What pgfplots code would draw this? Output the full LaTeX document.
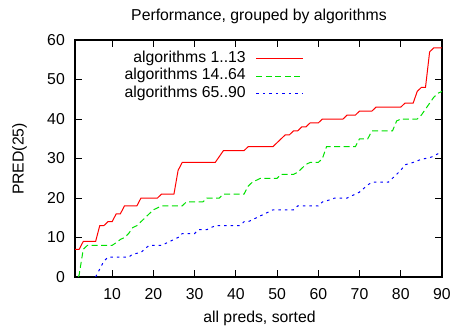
\documentclass[border=0pt]{standalone}
\usepackage{fontspec}
\setmainfont{Liberation Sans}
\usepackage{pgfplots}
\pgfplotsset{compat=1.18}
\newcommand{\gfont}{\fontsize{15.8bp}{19bp}\selectfont}
\definecolor{gred}{RGB}{255,0,0}
\definecolor{ggreen}{RGB}{0,225,0}
\definecolor{gblue}{RGB}{0,0,255}
\begin{document}
\begin{tikzpicture}
\useasboundingbox (0,0) rectangle (454bp,329bp);
\begin{axis}[
  at={(75bp,52bp)}, anchor=south west,
  scale only axis, width=367bp, height=237bp,
  xmin=1, xmax=90, ymin=0, ymax=60,
  xtick={10,20,...,90}, ytick={0,10,...,60},
  tick align=inside, xtick pos=both, ytick pos=both,
  major tick length=7bp,
  axis line style={line width=1.1bp},
  every tick/.style={black, line width=0.9bp},
  /pgf/number format/assume math mode=true,
  tick label style={font=\gfont},
  yticklabel style={anchor=east, inner sep=0pt, xshift=-10bp},
  xticklabel style={anchor=north, inner sep=0pt, yshift=-11bp},
  legend plot pos=right, legend cell align=right,
  legend style={draw=none, fill=none, font=\gfont, at={(0.624,0.955)}, anchor=north east,
    inner sep=0pt, row sep=1.3bp, column sep=10bp,
    nodes={inner sep=0pt, text height=11.8bp, text depth=4.1bp}},
  legend image code/.code={\draw[#1] (0bp,0bp) -- (47bp,0bp);},
  no markers, sharp plot,
]
\addplot[gred, line width=1bp] coordinates {
(1,7)(2,7)(3,9)(4,9)(5,9)(6,9)(7,13)(8,13)(9,14)(10,14)(11,16)(12,16)(13,18)(14,18)(15,18)(16,18)(17,20)(18,20)(19,20)(20,20)(21,20)(22,21)(23,21)(24,21)(25,21)(26,27)(27,29)(28,29)(29,29)(30,29)(31,29)(32,29)(33,29)(34,29)(35,29)(36,30.5)(37,32)(38,32)(39,32)(40,32)(41,32)(42,32)(43,33)(44,33)(45,33)(46,33)(47,33)(48,33)(49,33)(50,34)(51,35)(52,36)(53,36)(54,37)(55,37)(56,38)(57,38)(58,39)(59,39)(60,39)(61,40)(62,40)(63,40)(64,40)(65,40)(66,40)(67,41)(68,41)(69,41)(70,42)(71,42)(72,42)(73,42)(74,43)(75,43)(76,43)(77,43)(78,43)(79,43)(80,43)(81,44)(82,44)(83,44)(84,47)(85,48)(86,48)(87,57)(88,58)(89,58)(90,58)
};
\addlegendentry{algorithms 1..13}
\addplot[ggreen, line width=1bp, dash pattern=on 6bp off 3.5bp] coordinates {
(1.8,0)(2,0.5)(3,7)(4,8)(5,8)(6,8)(7,8)(8,8)(9,8)(10,8)(11,8.7)(12,9.5)(13,10)(14,11)(15,12.5)(16,13)(17,14)(18,15)(19,16)(20,17)(21,17.5)(22,18)(23,18)(24,18)(25,18)(26,18)(27,18)(28,19)(29,19)(30,19)(31,19)(32,19)(33,20)(34,20)(35,20)(36,20)(37,21)(38,21)(39,21)(40,21)(41,21)(42,21)(43,23)(44,24)(45,24.5)(46,25)(47,25)(48,25)(49,25)(50,25)(51,26)(52,26)(53,26)(54,26)(55,26.5)(56,27.5)(57,28.5)(58,29)(59,29)(60,29)(61,30)(62,33)(63,33)(64,33)(65,33)(66,33)(67,33)(68,33)(69,33)(70,35)(71,35)(72,35)(73,37)(74,37)(75,37)(76,37)(77,37)(78,37)(79,39.5)(80,40)(81,40)(82,40)(83,40)(84,40)(85,41)(86,42.5)(87,44)(88,45.5)(89,46.5)(90,47)
};
\addlegendentry{algorithms 14..64}
\addplot[gblue, line width=1bp, dash pattern=on 2.5bp off 4bp] coordinates {
(6,0)(7,2)(8,4)(9,5)(10,5)(11,5)(12,5)(13,5)(14,5)(15,5.8)(16,6)(17,6.2)(18,7.2)(19,8)(20,8)(21,8)(22,8)(23,8.5)(24,9)(25,9.5)(26,10)(27,11)(28,11)(29,11)(30,11)(31,12)(32,12)(33,12)(34,12.5)(35,13)(36,13)(37,13)(38,13)(39,13)(40,13)(41,13)(42,14)(43,14)(44,14.5)(45,15)(46,15.5)(47,16)(48,16.5)(49,17)(50,17)(51,17)(52,17)(53,17)(54,17)(55,18)(56,18)(57,18)(58,18)(59,18)(60,18)(61,19)(62,19.3)(63,19.6)(64,20)(65,20)(66,20)(67,20)(68,20.5)(69,21)(70,21.5)(71,22.4)(72,23.3)(73,24)(74,24)(75,24)(76,24)(77,24)(78,25)(79,26)(80,27)(81,28.4)(82,28.7)(83,29)(84,29.4)(85,29.8)(86,30)(87,30.2)(88,30.6)(89,31.2)(90,31.5)
};
\addlegendentry{algorithms 65..90}
\end{axis}
\node[font=\gfont, anchor=base] at (259bp,308bp) {Performance, grouped by algorithms};
\node[font=\gfont, anchor=base] at (259.5bp,7bp) {all preds, sorted};
\node[font=\gfont, rotate=90, anchor=center] at (19.5bp,170bp) {PRED(25)};
\end{tikzpicture}
\end{document}
